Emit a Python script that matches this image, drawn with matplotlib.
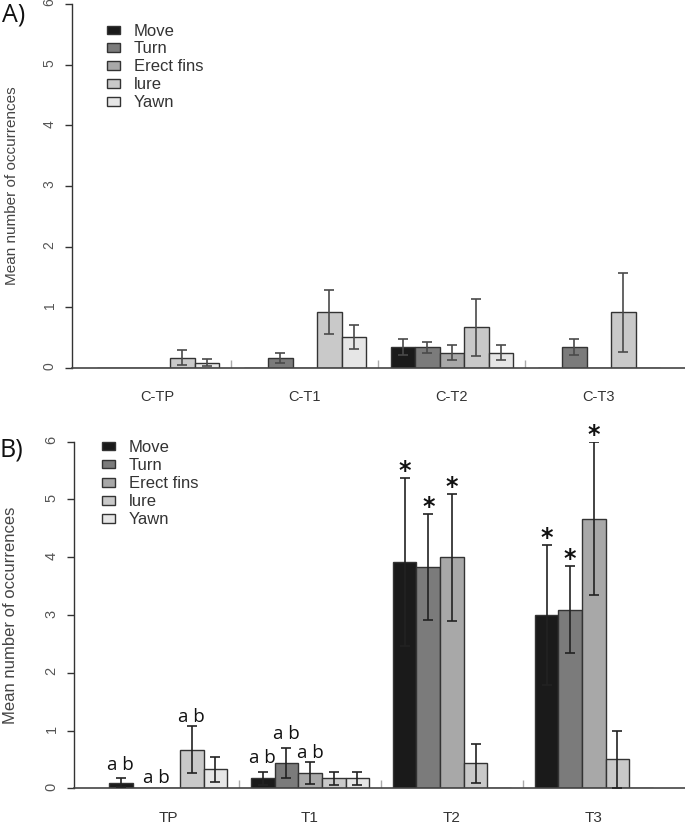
import matplotlib
matplotlib.use("Agg")
import matplotlib.pyplot as plt
from matplotlib.patches import Rectangle
import numpy as np

W, H = 685, 826

behaviors = ["Move", "Turn", "Erect fins", "lure", "Yawn"]
colors = ["#1a1a1a", "#7b7b7b", "#a8a8a8", "#c9c9c9", "#e6e6e6"]

# ---------------- Panel A data ----------------
groups_A = ["C-TP", "C-T1", "C-T2", "C-T3"]
move_A = [0, 0, 0.34, 0]
turn_A = [0, 0.17, 0.34, 0.34]
erect_A = [0, 0, 0.25, 0]
lure_A = [0.17, 0.92, 0.67, 0.92]
yawn_A = [0.09, 0.51, 0.25, 0]
move_A_err = [0, 0, 0.13, 0]
turn_A_err = [0, 0.085, 0.095, 0.13]
erect_A_err = [0, 0, 0.125, 0]
lure_A_err = [0.12, 0.365, 0.465, 0.65]
yawn_A_err = [0.055, 0.205, 0.125, 0]

# ---------------- Panel B data ----------------
groups_B = ["TP", "T1", "T2", "T3"]
move_B = [0.10, 0.17, 3.92, 3.00]
turn_B = [0, 0.43, 3.83, 3.09]
erect_B = [0, 0.26, 4.00, 4.67]
lure_B = [0.67, 0.17, 0.43, 0.50]
yawn_B = [0.33, 0.17, 0, 0]
move_B_err = [0.07, 0.11, 1.46, 1.21]
turn_B_err = [0, 0.26, 0.91, 0.75]
erect_B_err = [0, 0.19, 1.10, 1.32]
lure_B_err = [0.40, 0.11, 0.335, 0.50]
yawn_B_err = [0.22, 0.11, 0, 0]

# letters "a b" (group, bar position within group, baseline value)
ab_group = [0, 0, 0, 1, 1, 1]
ab_bar = [0, 1.5, 3, 0, 1, 2]
ab_y = [0.32, 0.10, 1.15, 0.43, 0.86, 0.52]
# asterisks (group, behaviour index)
star_group = [2, 2, 2, 3, 3, 3]
star_bar = [0, 1, 2, 0, 1, 2]

yticks = [0, 1, 2, 3, 4, 5, 6]

fig = plt.figure(figsize=(W / 100, H / 100), dpi=100)


def fx(px):
    return px / W


def fy(py):
    return 1 - py / H


def make_panel(left, top, bottom, unit, start, groups, vals, errs, ecolor,
               xlab_size, tick_size, sep_h):
    ax = fig.add_axes([fx(left), fy(bottom), fx(W - left), (bottom - top) / H])
    ax.set_xlim(0, (W - left) / unit)
    ax.set_ylim(0, 6)
    gi = np.arange(len(groups))
    for i, (v, e) in enumerate(zip(vals, errs)):
        xs = start + 6 * gi + i
        ax.bar(xs, v, width=1, align="edge", color=colors[i],
               edgecolor="#333333", linewidth=1.0, zorder=2)
        v = np.asarray(v, float)
        e = np.asarray(e, float)
        m = e > 0
        ax.errorbar(xs[m] + 0.5, v[m], yerr=e[m], fmt="none", ecolor=ecolor,
                    elinewidth=1.2, capsize=3.6, capthick=1.2, zorder=3)
    for s in ["top", "right"]:
        ax.spines[s].set_visible(False)
    ax.spines["left"].set_bounds(0, 6)
    ax.spines["left"].set_color("#333333")
    ax.spines["bottom"].set_color("#444444")
    ax.spines["left"].set_linewidth(1.0)
    ax.spines["bottom"].set_linewidth(1.2)
    ax.set_yticks(yticks)
    ax.set_yticklabels([str(t) for t in yticks], family="Liberation Sans",
                       fontsize=tick_size, color="#555555")
    ax.tick_params(axis="y", length=5, width=1.0, color="#333333",
                   labelrotation=90, pad=6)
    centers = start + 6 * gi + 2.5
    ax.set_xticks(centers)
    ax.set_xticklabels(groups, family="Liberation Sans", fontsize=xlab_size,
                       color="#333333")
    ax.tick_params(axis="x", length=0, pad=16)
    seps = start + 6 * gi[1:] - 0.5
    ax.vlines(seps, 0, sep_h, color="#aaaaaa", linewidth=1.0, zorder=1)
    return ax


axA = make_panel(72, 4, 368, 24.5, 1.0, groups_A,
                 [move_A, turn_A, erect_A, lure_A, yawn_A],
                 [move_A_err, turn_A_err, erect_A_err, lure_A_err, yawn_A_err],
                 "#4a4a4a", 10.5, 10, 0.13)
axB = make_panel(74, 441.7, 788.3, 23.65, 1.48, groups_B,
                 [move_B, turn_B, erect_B, lure_B, yawn_B],
                 [move_B_err, turn_B_err, erect_B_err, lure_B_err, yawn_B_err],
                 "#222222", 11, 10.5, 0.15)

# y labels
fig.text(fx(12.5), fy(186), "Mean number of occurrences", rotation=90,
         ha="center", va="center", family="Liberation Sans", fontsize=11,
         color="#444444")
fig.text(fx(11), fy(615), "Mean number of occurrences", rotation=90,
         ha="center", va="center", family="Liberation Sans", fontsize=12,
         color="#444444")

# panel labels
fig.text(fx(2), fy(15), "A)", ha="left", va="center", family="Open Sans",
         fontsize=18, color="#111111")
fig.text(fx(0), fy(450), "B)", ha="left", va="center", family="Open Sans",
         fontsize=18, color="#111111")

# legends (manual)
def legend(box_left, text_left, y0, pitch):
    for i, lab in enumerate(behaviors):
        yc = y0 + i * pitch
        fig.add_artist(Rectangle((fx(box_left), fy(yc + 4.3)), 13 / W, 8.6 / H,
                                 transform=fig.transFigure, facecolor=colors[i],
                                 edgecolor="#333333", linewidth=1.0))
        fig.text(fx(text_left), fy(yc + 1), lab, ha="left", va="center",
                 family="Liberation Sans", fontsize=12, color="#333333")


legend(107, 134, 30, 17.8)
legend(102, 129, 446, 18.1)

# "a b" letters in panel B
for g, b, y in zip(ab_group, ab_bar, ab_y):
    axB.text(1.48 + 6 * g + b + 0.5, y, "a b", ha="center", va="baseline",
             family="Open Sans", fontsize=13.5, color="#111111")

# asterisks in panel B
vals_B = [move_B, turn_B, erect_B, lure_B, yawn_B]
errs_B = [move_B_err, turn_B_err, erect_B_err, lure_B_err, yawn_B_err]
for g, b in zip(star_group, star_bar):
    top = vals_B[b][g] + errs_B[b][g]
    axB.annotate("*", (1.48 + 6 * g + b + 0.5, top), xytext=(0, 0),
                 textcoords="offset points", ha="center", va="baseline",
                 family="DejaVu Sans", fontweight="bold", fontsize=17,
                 color="#111111", annotation_clip=False)

fig.savefig("out.png", dpi=100)
